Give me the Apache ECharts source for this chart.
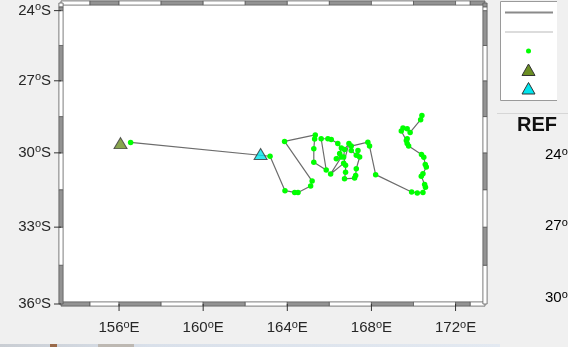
<!DOCTYPE html>
<html>
<head>
<meta charset="utf-8">
<script src="https://cdn.jsdelivr.net/npm/echarts@6/dist/echarts.min.js"></script>
<style>
  html, body { margin: 0; padding: 0; background: #f0f0f0; }
  #chart { width: 568px; height: 347px; }
</style>
</head>
<body>
<div id="chart"></div>
<script>
// Float track: longitude (deg E) and latitude (deg S) of each fix
const trackLon = [156.55, 163.18, 163.89, 164.35, 164.51, 165.11, 165.18, 163.87, 165.33, 165.30,
                  165.26, 165.26, 165.85, 165.61, 165.93, 166.09, 166.40, 166.57, 166.49, 166.33,
                  166.57, 166.06, 166.68, 166.93, 166.72, 166.68, 166.77, 166.77, 166.72, 167.20,
                  167.25, 167.28, 167.44, 167.36, 167.28, 167.04, 167.04, 167.83, 167.91, 168.20,
                  169.91, 170.18, 170.45, 170.57, 170.53, 170.37, 170.45, 170.61, 170.56, 170.49,
                  170.38, 169.77, 169.70, 169.66, 169.70, 169.42, 169.50, 169.70, 169.84, 170.34,
                  170.40];
const trackLat = [29.57, 30.14, 31.54, 31.61, 31.61, 31.35, 31.15, 29.53, 29.26, 29.43,
                  29.83, 30.38, 30.70, 29.42, 29.42, 29.45, 29.62, 29.80, 30.03, 30.24,
                  30.17, 30.86, 30.43, 29.62, 29.86, 30.17, 30.51, 30.79, 31.06, 31.03,
                  30.92, 30.65, 30.17, 29.90, 30.10, 29.90, 29.72, 29.56, 29.72, 30.89,
                  31.59, 31.63, 31.61, 31.40, 31.29, 30.95, 30.85, 30.58, 30.48, 30.18,
                  30.07, 29.72, 29.62, 29.49, 29.42, 29.10, 28.98, 29.01, 29.16, 28.63,
                  28.46];
// Deployment position and reference position [lon E, lat S]
const deployPos = [156.07, 29.60];
const refPos = [162.73, 30.05];

// Map extent and graticule ticks
const lonRange = [153.24, 173.40];
const latRange = [23.67, 36];          // north edge, south edge (deg S)
const lonTicks = [156, 160, 164, 168, 172];
const latTicks = [24, 27, 30, 33, 36];

// Mercator ordinate (in degree units) for a southern latitude
function merc(latS) {
  const phi = -latS * Math.PI / 180;
  return Math.log(Math.tan(Math.PI / 4 + phi / 2)) * 180 / Math.PI;
}
function invMerc(v) {
  return -(2 * Math.atan(Math.exp(v * Math.PI / 180)) - Math.PI / 2) * 180 / Math.PI;
}

// Boundaries of the alternating frame pieces: ticks, mid-points between ticks,
// and the halves of the partial pieces at the ends.
function frameBreaks(lo, hi, ticks) {
  const pts = [lo];
  let prev = lo;
  ticks.forEach(t => {
    if (t > prev + 1e-6) { pts.push((prev + t) / 2); pts.push(t); }
    prev = t;
  });
  if (hi > prev + 1e-6) { pts.push((prev + hi) / 2); pts.push(hi); }
  return pts;
}
const lonBreaks = frameBreaks(lonRange[0], lonRange[1], lonTicks);
const latBreaks = frameBreaks(latRange[0], latRange[1], latTicks).reverse(); // south to north

// side: 0 bottom, 1 top, 2 left, 3 right
const frameData = [];
for (let i = 0; i < lonBreaks.length - 1; i++) {
  frameData.push([0, lonBreaks[i], lonBreaks[i + 1], i % 2 === 0 ? 1 : 0]);
  frameData.push([1, lonBreaks[i], lonBreaks[i + 1], i % 2 === 0 ? 0 : 1]);
}
for (let i = 0; i < latBreaks.length - 1; i++) {
  frameData.push([2, latBreaks[i], latBreaks[i + 1], i % 2 === 0 ? 1 : 0]);
  frameData.push([3, latBreaks[i], latBreaks[i + 1], i % 2 === 0 ? 0 : 1]);
}
// tick marks: side 4 bottom ticks, side 5 left ticks
lonTicks.forEach(t => frameData.push([4, t, t, 0]));
latTicks.forEach(t => frameData.push([5, t, t, 0]));

const BAND = 4.2;
const TICK = 7;
const FRAME_DARK = '#939393';
const FRAME_LINE = '#5a5a5a';

function renderFrame(params, api) {
  const side = api.value(0), a = api.value(1), b = api.value(2), dark = api.value(3);
  const half = BAND / 2;
  if (side === 4) {
    const p = api.coord([a, merc(latRange[1])]);
    return { type: 'line', shape: { x1: p[0], y1: p[1], x2: p[0], y2: p[1] + TICK },
             style: { stroke: '#333', lineWidth: 1 } };
  }
  if (side === 5) {
    const p = api.coord([lonRange[0], merc(a)]);
    return { type: 'line', shape: { x1: p[0], y1: p[1], x2: p[0] - TICK, y2: p[1] },
             style: { stroke: '#333', lineWidth: 1 } };
  }
  let x, y, w, h;
  if (side < 2) {
    const yEdge = side === 0 ? latRange[1] : latRange[0];
    const p0 = api.coord([a, merc(yEdge)]);
    const p1 = api.coord([b, merc(yEdge)]);
    x = p0[0]; w = p1[0] - p0[0]; y = p0[1] - half; h = BAND;
  } else {
    const xEdge = side === 2 ? lonRange[0] : lonRange[1];
    const p0 = api.coord([xEdge, merc(a)]);
    const p1 = api.coord([xEdge, merc(b)]);
    x = p0[0] - half; w = BAND; y = Math.min(p0[1], p1[1]); h = Math.abs(p1[1] - p0[1]);
  }
  return {
    type: 'rect',
    shape: { x: x, y: y, width: w, height: h },
    style: { fill: dark ? FRAME_DARK : '#ffffff', stroke: FRAME_LINE, lineWidth: 0.8 }
  };
}

const FONT = "'Liberation Sans', Arial, Helvetica, sans-serif";
const labelRich = {
  n: { fontSize: 15, fontFamily: FONT, color: '#262626', lineHeight: 18 },
  s: { fontSize: 11, fontFamily: FONT, color: '#262626', lineHeight: 5, verticalAlign: 'top' }
};

const chart = echarts.init(document.getElementById('chart'), null, { renderer: 'canvas' });

const trackData = trackLon.map((lon, i) => [lon, merc(trackLat[i])]);

chart.setOption({
  animation: false,
  backgroundColor: '#f0f0f0',
  grid: { left: 61, right: 83, top: 3, bottom: 43, show: true, backgroundColor: '#ffffff', borderWidth: 0 },
  xAxis: {
    type: 'value',
    min: lonRange[0], max: lonRange[1],
    axisLine: { show: false }, splitLine: { show: false }, axisTick: { show: false },
    axisLabel: {
      customValues: lonTicks,
      margin: 15,
      formatter: v => `{n|${Math.round(v)}}{s|o}{n|E}`,
      rich: labelRich
    }
  },
  yAxis: {
    type: 'value',
    min: merc(latRange[1]), max: merc(latRange[0]),
    axisLine: { show: false }, splitLine: { show: false }, axisTick: { show: false },
    axisLabel: {
      customValues: latTicks.map(merc),
      margin: 10,
      formatter: v => `{n|${Math.round(invMerc(v))}}{s|o}{n|S}`,
      rich: labelRich
    }
  },
  series: [
    {
      name: 'track',
      type: 'line',
      data: trackData,
      symbol: 'circle',
      symbolSize: 5.5,
      showAllSymbol: true,
      itemStyle: { color: '#00ff00', borderWidth: 0 },
      lineStyle: { color: '#6c6c6c', width: 1.2 },
      z: 2
    },
    {
      name: 'deploy',
      type: 'scatter',
      data: [[deployPos[0], merc(deployPos[1])]],
      symbol: 'triangle',
      symbolSize: [13, 11],
      itemStyle: { color: '#6b8e23', borderColor: '#333', borderWidth: 1 },
      z: 3
    },
    {
      name: 'ref',
      type: 'scatter',
      data: [[refPos[0], merc(refPos[1])]],
      symbol: 'triangle',
      symbolSize: [13, 11],
      itemStyle: { color: '#00e5ee', borderColor: '#333', borderWidth: 1 },
      z: 3
    },
    {
      name: 'frame',
      type: 'custom',
      renderItem: renderFrame,
      data: frameData,
      silent: true,
      clip: false,
      z: 4
    }
  ],
  graphic: [
    // legend panel
    { type: 'rect', shape: { x: 500, y: 1, width: 57, height: 99 }, style: { fill: '#ffffff' }, z: 10 },
    { type: 'polyline', shape: { points: [[557, 1.5], [500.5, 1.5], [500.5, 100.5], [557, 100.5]] },
      style: { stroke: '#9a9a9a', lineWidth: 1, fill: null }, z: 11 },
    { type: 'line', shape: { x1: 505, y1: 12.5, x2: 553, y2: 12.5 }, style: { stroke: '#8a8a8a', lineWidth: 2 }, z: 11 },
    { type: 'line', shape: { x1: 505, y1: 32, x2: 553, y2: 32 }, style: { stroke: '#dcdcdc', lineWidth: 2 }, z: 11 },
    { type: 'circle', shape: { cx: 528.5, cy: 51, r: 2.5 }, style: { fill: '#00ff00' }, z: 11 },
    { type: 'polygon', shape: { points: [[528.5, 64], [535, 75.5], [522, 75.5]] },
      style: { fill: '#6b8e23', stroke: '#333', lineWidth: 1 }, z: 11 },
    { type: 'polygon', shape: { points: [[528.5, 82.5], [535, 94], [522, 94]] },
      style: { fill: '#00e5ee', stroke: '#333', lineWidth: 1 }, z: 11 },
    // neighbouring panel
    { type: 'line', shape: { x1: 497, y1: 113.5, x2: 568, y2: 113.5 }, style: { stroke: '#d6d6d6', lineWidth: 1 }, z: 10 },
    { type: 'text', x: 537, y: 125, style: { text: 'REF', font: "bold 20px " + FONT, fill: '#111', align: 'center', verticalAlign: 'middle' }, z: 10 },
    { type: 'text', x: 545, y: 155, style: { text: '{n|24}{s|o}{n|S}', rich: labelRich, verticalAlign: 'middle' }, z: 10 },
    { type: 'text', x: 545, y: 226, style: { text: '{n|27}{s|o}{n|S}', rich: labelRich, verticalAlign: 'middle' }, z: 10 },
    { type: 'text', x: 545, y: 298, style: { text: '{n|30}{s|o}{n|S}', rich: labelRich, verticalAlign: 'middle' }, z: 10 },
    // strip along the bottom edge
    { type: 'rect', shape: { x: 0, y: 344, width: 500, height: 3 },
      style: { fill: new echarts.graphic.LinearGradient(0, 0, 1, 0, [
        { offset: 0, color: '#c9cdd3' }, { offset: 0.3, color: '#d9e0ea' }, { offset: 1, color: '#e3e9f1' }]) }, z: 10 },
    { type: 'rect', shape: { x: 50, y: 344, width: 7, height: 3 }, style: { fill: '#9a6a4a' }, z: 11 },
    { type: 'rect', shape: { x: 98, y: 344, width: 36, height: 3 }, style: { fill: '#bdb8b2' }, z: 11 }
  ]
});
</script>
</body>
</html>
